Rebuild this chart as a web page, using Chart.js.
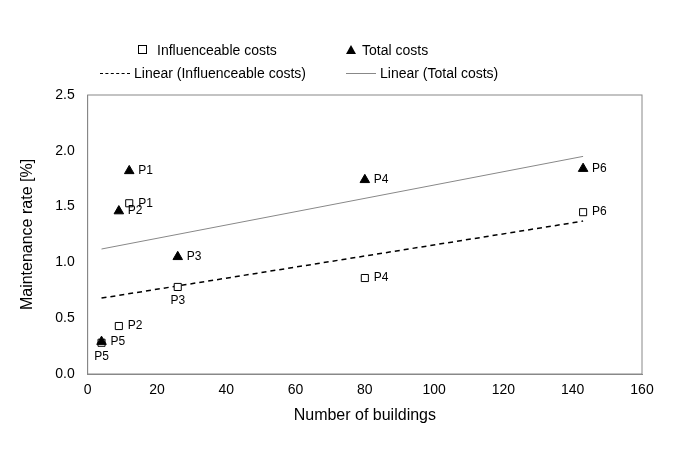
<!DOCTYPE html><html><head><meta charset="utf-8">
<script src="https://cdn.jsdelivr.net/npm/chart.js@4"></script>
<style>
body{margin:0;background:#fff;font-family:Arial,"Liberation Sans",sans-serif;}
#wrap{position:absolute;left:0;top:0;width:697px;height:465px;}
.lg{position:absolute;font-size:14px;color:#000;white-space:nowrap;}
</style></head><body>
<div id="wrap"><canvas id="c" width="697" height="465"></canvas>
<div class="lg" style="left:138px;top:42px"><span style="display:inline-block;width:7px;height:7px;border:1px solid #000;margin-right:10px;vertical-align:1px"></span>Influenceable costs</div>
<div class="lg" style="left:346px;top:42px"><span style="display:inline-block;width:0;height:0;border-left:5px solid transparent;border-right:5px solid transparent;border-bottom:9px solid #000;margin-right:6px;vertical-align:1px"></span>Total costs</div>
<div class="lg" style="left:100px;top:65px"><span style="display:inline-block;width:30px;border-top:1.5px dashed #000;margin-right:4px;vertical-align:4px"></span>Linear (Influenceable costs)</div>
<div class="lg" style="left:346px;top:65px"><span style="display:inline-block;width:30px;border-top:1px solid #888;margin-right:4px;vertical-align:4px"></span>Linear (Total costs)</div>
</div>
<script>
const names=["P1","P2","P3","P4","P5","P6"];
const buildings=[12,9,26,80,4,143];
const influenceable=[1.53,0.43,0.78,0.86,0.28,1.45];
const total=[1.82,1.46,1.05,1.74,0.29,1.84];
const trendX=[4,143];
const trendInfl=[0.68,1.37];
const trendTotal=[1.12,1.95];
const xTicks=[0,20,40,60,80,100,120,140,160];
const yTicks=[0,0.5,1,1.5,2,2.5];

const pts=(xs,ys)=>xs.map((x,i)=>({x:x,y:ys[i]}));
const labelPos={0:{},1:{}};
labelPos[0][2]='below';labelPos[0][4]='below';
const labels={
 id:'lbl',
 afterDatasetsDraw(ch){
  const ctx=ch.ctx;ctx.save();ctx.font='12px Arial, "Liberation Sans"';ctx.fillStyle='#000';
  [0,1].forEach(di=>{
   ch.getDatasetMeta(di).data.forEach((p,i)=>{
    if(labelPos[di][i]==='below'){ctx.textAlign='center';ctx.textBaseline='top';ctx.fillText(names[i],p.x,p.y+8);}
    else{ctx.textAlign='left';ctx.textBaseline='middle';ctx.fillText(names[i],p.x+9,p.y);}
   });
  });
  ctx.restore();
 }
};
new Chart(document.getElementById('c'),{
 type:'scatter',
 data:{datasets:[
  {data:pts(buildings,influenceable),pointStyle:'rect',pointRadius:5,backgroundColor:'#fff',borderColor:'#000',borderWidth:1,order:2},
  {data:pts(buildings,total),pointStyle:'triangle',pointRadius:5.5,backgroundColor:'#000',borderColor:'#000',order:1},
  {type:'line',data:pts(trendX,trendInfl),borderColor:'#000',borderDash:[5,4],borderWidth:1.5,pointRadius:0,fill:false,order:3},
  {type:'line',data:pts(trendX,trendTotal),borderColor:'#888',borderWidth:1,pointRadius:0,fill:false,order:3}
 ]},
 options:{responsive:false,animation:false,
  layout:{padding:{left:14,right:55,top:95,bottom:36}},
  plugins:{legend:{display:false},tooltip:{enabled:false}},
  scales:{
   x:{type:'linear',min:0,max:160,afterBuildTicks:a=>{a.ticks=xTicks.map(v=>({value:v}))},
    grid:{display:false,drawTicks:true,tickLength:5,color:'#888'},border:{color:'#888'},
    ticks:{color:'#000',font:{size:14,family:'Arial, "Liberation Sans"'}},
    title:{display:true,text:'Number of buildings',color:'#000',font:{size:16,family:'Arial, "Liberation Sans"'}}},
   y:{min:0,max:2.5,afterBuildTicks:a=>{a.ticks=yTicks.map(v=>({value:v}))},
    grid:{display:false,tickLength:5,color:'#888'},border:{color:'#888'},
    ticks:{color:'#000',padding:8,callback:v=>v.toFixed(1),font:{size:14,family:'Arial, "Liberation Sans"'}},
    title:{display:true,text:'Maintenance rate [%]',color:'#000',padding:{bottom:10},font:{size:16,family:'Arial, "Liberation Sans"'}}}
  }},
 plugins:[labels,{id:'frame',afterDraw(ch){const a=ch.chartArea,c=ch.ctx;c.save();c.strokeStyle='#888';c.lineWidth=1;c.strokeRect(a.left,a.top,a.right-a.left,a.bottom-a.top);c.restore();}}]
});
</script></body></html>
